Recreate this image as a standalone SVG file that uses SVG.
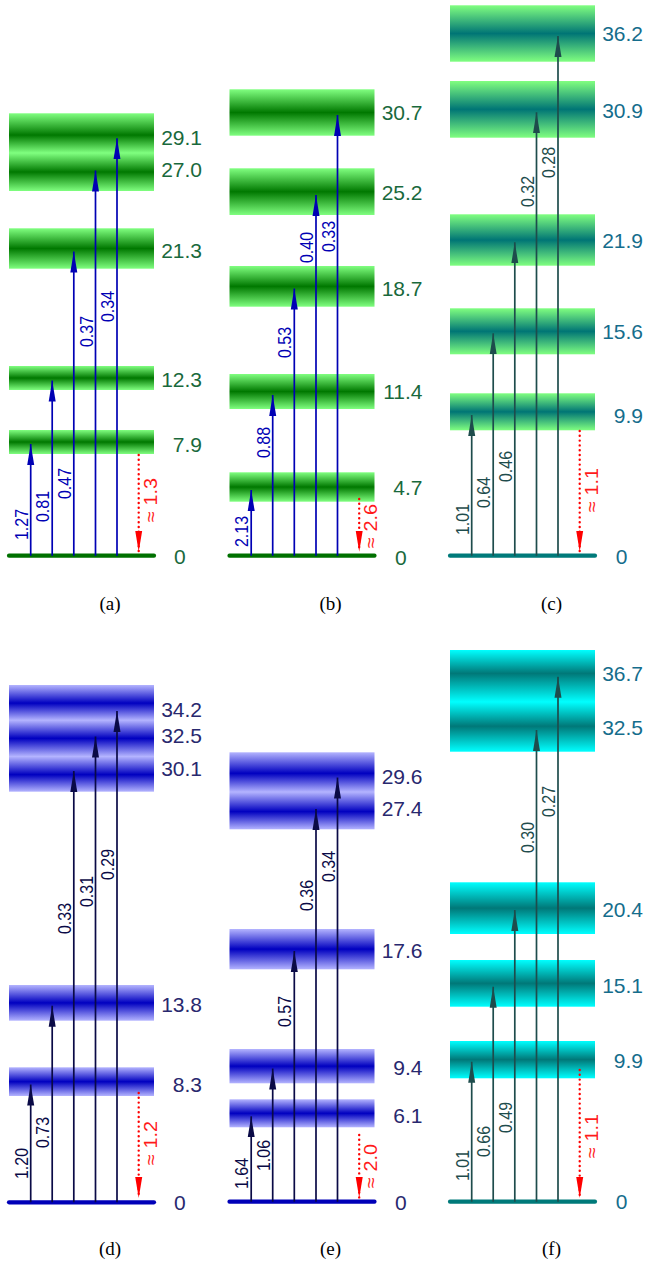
<svg xmlns="http://www.w3.org/2000/svg" width="645" height="1266" viewBox="0 0 645 1266">
<style>
text{font-family:"Liberation Sans","DejaVu Sans",sans-serif}
.lvG{font-size:21px;fill:#19693c}
.lvC{font-size:21px;fill:#156d8c}
.lvD{font-size:21px;fill:#28286e}
.e{text-anchor:end}
.al{font-size:18px}
.aB{fill:#0000b4}.aN{fill:#0a0a46}.aT{fill:#1e4c4c}
.rl{font-size:18px;fill:#ff1a1a}
.cap{font-family:"Liberation Serif",serif;font-size:19px;fill:#000;text-anchor:middle}
.gr{stroke-width:4.2;stroke-linecap:round}
.arB{stroke:#0000b4;stroke-width:1.7;marker-end:url(#mB)}
.arN{stroke:#0a0a46;stroke-width:1.7;marker-end:url(#mN)}
.arT{stroke:#1e4c4c;stroke-width:1.7;marker-end:url(#mT)}
.red{stroke:#ff0000;stroke-width:2.4;stroke-linecap:round;stroke-dasharray:0 4.8;marker-end:url(#mR)}
</style>
<defs>
<linearGradient id="gG" x1="0" y1="0" x2="0" y2="1"><stop offset="0" stop-color="#80ff80"/><stop offset="0.5" stop-color="#007800"/><stop offset="1" stop-color="#80ff80"/></linearGradient>
<linearGradient id="gG2" x1="0" y1="0" x2="0" y2="1"><stop offset="0" stop-color="#80ff80"/><stop offset="0.28" stop-color="#007800"/><stop offset="0.51" stop-color="#80ff80"/><stop offset="0.755" stop-color="#007800"/><stop offset="1" stop-color="#80ff80"/></linearGradient>
<linearGradient id="gC" x1="0" y1="0" x2="0" y2="1"><stop offset="0" stop-color="#80ff80"/><stop offset="0.5" stop-color="#007575"/><stop offset="1" stop-color="#80ff80"/></linearGradient>
<linearGradient id="gD" x1="0" y1="0" x2="0" y2="1"><stop offset="0" stop-color="#b4b4ff"/><stop offset="0.5" stop-color="#0000c0"/><stop offset="1" stop-color="#b4b4ff"/></linearGradient>
<linearGradient id="gD3" x1="0" y1="0" x2="0" y2="1"><stop offset="0" stop-color="#b4b4ff"/><stop offset="0.17" stop-color="#0000c0"/><stop offset="0.33" stop-color="#b4b4ff"/><stop offset="0.5" stop-color="#0000c0"/><stop offset="0.67" stop-color="#b4b4ff"/><stop offset="0.84" stop-color="#0000c0"/><stop offset="1" stop-color="#b4b4ff"/></linearGradient>
<linearGradient id="gE2" x1="0" y1="0" x2="0" y2="1"><stop offset="0" stop-color="#b4b4ff"/><stop offset="0.273" stop-color="#0000c0"/><stop offset="0.515" stop-color="#b4b4ff"/><stop offset="0.77" stop-color="#0000c0"/><stop offset="1" stop-color="#b4b4ff"/></linearGradient>
<linearGradient id="gF" x1="0" y1="0" x2="0" y2="1"><stop offset="0" stop-color="#00ffff"/><stop offset="0.5" stop-color="#007878"/><stop offset="1" stop-color="#00ffff"/></linearGradient>
<linearGradient id="gF2" x1="0" y1="0" x2="0" y2="1"><stop offset="0" stop-color="#00ffff"/><stop offset="0.23" stop-color="#007878"/><stop offset="0.51" stop-color="#00ffff"/><stop offset="0.75" stop-color="#007878"/><stop offset="1" stop-color="#00ffff"/></linearGradient>
<marker id="mB" markerWidth="21" markerHeight="8" refX="21" refY="4" orient="auto" markerUnits="userSpaceOnUse"><path d="M0,0.5 L21,4 L0,7.5 z" fill="#0000b4"/></marker>
<marker id="mN" markerWidth="21" markerHeight="8" refX="21" refY="4" orient="auto" markerUnits="userSpaceOnUse"><path d="M0,0.5 L21,4 L0,7.5 z" fill="#0a0a46"/></marker>
<marker id="mT" markerWidth="21" markerHeight="8" refX="21" refY="4" orient="auto" markerUnits="userSpaceOnUse"><path d="M0,0.5 L21,4 L0,7.5 z" fill="#1e4c4c"/></marker>
<marker id="mR" markerWidth="21" markerHeight="8" refX="21" refY="4" orient="auto" markerUnits="userSpaceOnUse"><path d="M0,0.5 L21,4 L0,7.5 z" fill="#ff0000"/></marker>
</defs>

<!-- Panel (a) -->
<g id="panel-a">
<g id="a-7.9"><rect x="9" y="430" width="145" height="24" fill="url(#gG)"/><text class="lvG e" x="202" y="451.6">7.9</text></g>
<g id="a-12.3"><rect x="9" y="366" width="145" height="24" fill="url(#gG)"/><text class="lvG e" x="202" y="386.6">12.3</text></g>
<g id="a-21.3"><rect x="9" y="228.3" width="145" height="40.4" fill="url(#gG)"/><text class="lvG e" x="202" y="257.6">21.3</text></g>
<g id="a-27-29"><rect x="9" y="113.3" width="145" height="77.7" fill="url(#gG2)"/><text class="lvG e" x="202" y="144.6">29.1</text><text class="lvG e" x="202" y="176.6">27.0</text></g>
<g id="a-0"><line class="gr" x1="9" y1="555.7" x2="154" y2="555.7" stroke="#007000"/><text class="lvG" x="174" y="564.3">0</text></g>
<g id="a-conn">
<line class="arB" x1="30.7" y1="555.7" x2="30.7" y2="444"/>
<line class="arB" x1="52.2" y1="555.7" x2="52.2" y2="380.5"/>
<line class="arB" x1="73.8" y1="555.7" x2="73.8" y2="251.5"/>
<line class="arB" x1="95.5" y1="555.7" x2="95.5" y2="170.5"/>
<line class="arB" x1="117" y1="555.7" x2="117" y2="138.3"/>
<line class="red" x1="138.7" y1="455" x2="138.7" y2="551.7"/>
<text class="al aB" transform="translate(27.7,540) rotate(-90)" textLength="31" lengthAdjust="spacingAndGlyphs">1.27</text>
<text class="al aB" transform="translate(49.2,522) rotate(-90)" textLength="31" lengthAdjust="spacingAndGlyphs">0.81</text>
<text class="al aB" transform="translate(70.8,499) rotate(-90)" textLength="31" lengthAdjust="spacingAndGlyphs">0.47</text>
<text class="al aB" transform="translate(92.5,347) rotate(-90)" textLength="31" lengthAdjust="spacingAndGlyphs">0.37</text>
<text class="al aB" transform="translate(114,322) rotate(-90)" textLength="31" lengthAdjust="spacingAndGlyphs">0.34</text>
<text class="rl" transform="translate(156.5,522) rotate(-90)" textLength="44" lengthAdjust="spacingAndGlyphs">≈ 1.3</text>
</g>
<text class="cap" x="110" y="610">(a)</text>
</g>

<!-- Panel (b) -->
<g id="panel-b" transform="translate(220.5,0)">
<g id="b-4.7"><rect x="9" y="472.3" width="145" height="29.4" fill="url(#gG)"/><text class="lvG e" x="202" y="494.9">4.7</text></g>
<g id="b-11.4"><rect x="9" y="374" width="145" height="35" fill="url(#gG)"/><text class="lvG e" x="202" y="399.3">11.4</text></g>
<g id="b-18.7"><rect x="9" y="266" width="145" height="40.7" fill="url(#gG)"/><text class="lvG e" x="202" y="295.6">18.7</text></g>
<g id="b-25.2"><rect x="9" y="168.3" width="145" height="46.7" fill="url(#gG)"/><text class="lvG e" x="202" y="199.8">25.2</text></g>
<g id="b-30.7"><rect x="9" y="89.3" width="145" height="46.4" fill="url(#gG)"/><text class="lvG e" x="202" y="119.9">30.7</text></g>
<g id="b-0"><line class="gr" x1="9" y1="555.7" x2="154" y2="555.7" stroke="#007000"/><text class="lvG" x="174.5" y="564.6">0</text></g>
<g id="b-conn">
<line class="arB" x1="30.7" y1="555.7" x2="30.7" y2="490"/>
<line class="arB" x1="52.2" y1="555.7" x2="52.2" y2="395"/>
<line class="arB" x1="73.8" y1="555.7" x2="73.8" y2="288.5"/>
<line class="arB" x1="95.5" y1="555.7" x2="95.5" y2="195"/>
<line class="arB" x1="117" y1="555.7" x2="117" y2="115"/>
<line class="red" x1="138.7" y1="499" x2="138.7" y2="551.7"/>
<text class="al aB" transform="translate(27.7,547) rotate(-90)" textLength="31" lengthAdjust="spacingAndGlyphs">2.13</text>
<text class="al aB" transform="translate(49.2,458) rotate(-90)" textLength="31" lengthAdjust="spacingAndGlyphs">0.88</text>
<text class="al aB" transform="translate(70.8,358) rotate(-90)" textLength="31" lengthAdjust="spacingAndGlyphs">0.53</text>
<text class="al aB" transform="translate(92.5,263) rotate(-90)" textLength="31" lengthAdjust="spacingAndGlyphs">0.40</text>
<text class="al aB" transform="translate(114,252) rotate(-90)" textLength="31" lengthAdjust="spacingAndGlyphs">0.33</text>
<text class="rl" transform="translate(156.5,548) rotate(-90)" textLength="44" lengthAdjust="spacingAndGlyphs">≈ 2.6</text>
</g>
<text class="cap" x="110" y="610">(b)</text>
</g>

<!-- Panel (c) -->
<g id="panel-c" transform="translate(441,0)">
<g id="c-9.9"><rect x="9" y="393.3" width="145" height="37" fill="url(#gC)"/><text class="lvC e" x="202" y="422.6">9.9</text></g>
<g id="c-15.6"><rect x="9" y="308.3" width="145" height="46" fill="url(#gC)"/><text class="lvC e" x="202" y="339.3">15.6</text></g>
<g id="c-21.9"><rect x="9" y="214.3" width="145" height="51.4" fill="url(#gC)"/><text class="lvC e" x="202" y="248.4">21.9</text></g>
<g id="c-30.9"><rect x="9" y="81" width="145" height="56.7" fill="url(#gC)"/><text class="lvC e" x="202" y="117.6">30.9</text></g>
<g id="c-36.2"><rect x="9" y="5.3" width="145" height="56.4" fill="url(#gC)"/><text class="lvC e" x="202" y="40.9">36.2</text></g>
<g id="c-0"><line class="gr" x1="9" y1="555.7" x2="154" y2="555.7" stroke="#007a7a"/><text class="lvC" x="174.7" y="564.3">0</text></g>
<g id="c-conn">
<line class="arT" x1="30.7" y1="555.7" x2="30.7" y2="415"/>
<line class="arT" x1="52.2" y1="555.7" x2="52.2" y2="333.3"/>
<line class="arT" x1="73.8" y1="555.7" x2="73.8" y2="242.3"/>
<line class="arT" x1="95.5" y1="555.7" x2="95.5" y2="112.3"/>
<line class="arT" x1="117" y1="555.7" x2="117" y2="36"/>
<line class="red" x1="138.7" y1="431" x2="138.7" y2="551.7"/>
<text class="al aT" transform="translate(27.7,535) rotate(-90)" textLength="31" lengthAdjust="spacingAndGlyphs">1.01</text>
<text class="al aT" transform="translate(49.2,508) rotate(-90)" textLength="31" lengthAdjust="spacingAndGlyphs">0.64</text>
<text class="al aT" transform="translate(70.8,482) rotate(-90)" textLength="31" lengthAdjust="spacingAndGlyphs">0.46</text>
<text class="al aT" transform="translate(92.5,207) rotate(-90)" textLength="31" lengthAdjust="spacingAndGlyphs">0.32</text>
<text class="al aT" transform="translate(114,178) rotate(-90)" textLength="31" lengthAdjust="spacingAndGlyphs">0.28</text>
<text class="rl" transform="translate(156.5,512) rotate(-90)" textLength="44" lengthAdjust="spacingAndGlyphs">≈ 1.1</text>
</g>
<text class="cap" x="110.5" y="610">(c)</text>
</g>

<!-- Panel (d) -->
<g id="panel-d">
<g id="d-8.3"><rect x="9" y="1067.3" width="145" height="28.7" fill="url(#gD)"/><text class="lvD e" x="202" y="1091.6">8.3</text></g>
<g id="d-13.8"><rect x="9" y="985" width="145" height="35.7" fill="url(#gD)"/><text class="lvD e" x="202" y="1011.6">13.8</text></g>
<g id="d-30-34"><rect x="9" y="685" width="145" height="106.7" fill="url(#gD3)"/><text class="lvD e" x="202" y="716.9">34.2</text><text class="lvD e" x="202" y="742.6">32.5</text><text class="lvD e" x="202" y="775.9">30.1</text></g>
<g id="d-0"><line class="gr" x1="9" y1="1202.3" x2="154" y2="1202.3" stroke="#0000b8"/><text class="lvD" x="174" y="1210.3">0</text></g>
<g id="d-conn">
<line class="arN" x1="30.7" y1="1202.3" x2="30.7" y2="1084.5"/>
<line class="arN" x1="52.2" y1="1202.3" x2="52.2" y2="1005.7"/>
<line class="arN" x1="73.8" y1="1202.3" x2="73.8" y2="771"/>
<line class="arN" x1="95.5" y1="1202.3" x2="95.5" y2="736.5"/>
<line class="arN" x1="117" y1="1202.3" x2="117" y2="711"/>
<line class="red" x1="138.7" y1="1093" x2="138.7" y2="1198"/>
<text class="al aN" transform="translate(27.7,1179) rotate(-90)" textLength="31" lengthAdjust="spacingAndGlyphs">1.20</text>
<text class="al aN" transform="translate(49.2,1148) rotate(-90)" textLength="31" lengthAdjust="spacingAndGlyphs">0.73</text>
<text class="al aN" transform="translate(70.8,934) rotate(-90)" textLength="31" lengthAdjust="spacingAndGlyphs">0.33</text>
<text class="al aN" transform="translate(92.5,907) rotate(-90)" textLength="31" lengthAdjust="spacingAndGlyphs">0.31</text>
<text class="al aN" transform="translate(114,880) rotate(-90)" textLength="31" lengthAdjust="spacingAndGlyphs">0.29</text>
<text class="rl" transform="translate(156.5,1165) rotate(-90)" textLength="44" lengthAdjust="spacingAndGlyphs">≈ 1.2</text>
</g>
<text class="cap" x="110" y="1255">(d)</text>
</g>

<!-- Panel (e) -->
<g id="panel-e" transform="translate(220.5,0)">
<g id="e-6.1"><rect x="9" y="1099.3" width="145" height="28" fill="url(#gD)"/><text class="lvD e" x="202" y="1123.3">6.1</text></g>
<g id="e-9.4"><rect x="9" y="1049" width="145" height="34.3" fill="url(#gD)"/><text class="lvD e" x="202" y="1075.3">9.4</text></g>
<g id="e-17.6"><rect x="9" y="929" width="145" height="40.3" fill="url(#gD)"/><text class="lvD e" x="202" y="957.6">17.6</text></g>
<g id="e-27-29"><rect x="9" y="752.3" width="145" height="77" fill="url(#gE2)"/><text class="lvD e" x="202" y="784.3">29.6</text><text class="lvD e" x="202" y="815.9">27.4</text></g>
<g id="e-0"><line class="gr" x1="9" y1="1201.7" x2="154" y2="1201.7" stroke="#0000b8"/><text class="lvD" x="174.5" y="1209.6">0</text></g>
<g id="e-conn">
<line class="arN" x1="30.7" y1="1201.7" x2="30.7" y2="1116.3"/>
<line class="arN" x1="52.2" y1="1201.7" x2="52.2" y2="1068.5"/>
<line class="arN" x1="73.8" y1="1201.7" x2="73.8" y2="951"/>
<line class="arN" x1="95.5" y1="1201.7" x2="95.5" y2="809"/>
<line class="arN" x1="117" y1="1201.7" x2="117" y2="777.5"/>
<line class="red" x1="138.7" y1="1135" x2="138.7" y2="1198"/>
<text class="al aN" transform="translate(27.7,1189) rotate(-90)" textLength="31" lengthAdjust="spacingAndGlyphs">1.64</text>
<text class="al aN" transform="translate(49.2,1171) rotate(-90)" textLength="31" lengthAdjust="spacingAndGlyphs">1.06</text>
<text class="al aN" transform="translate(70.8,1027) rotate(-90)" textLength="31" lengthAdjust="spacingAndGlyphs">0.57</text>
<text class="al aN" transform="translate(92.5,911) rotate(-90)" textLength="31" lengthAdjust="spacingAndGlyphs">0.36</text>
<text class="al aN" transform="translate(114,882) rotate(-90)" textLength="31" lengthAdjust="spacingAndGlyphs">0.34</text>
<text class="rl" transform="translate(156.5,1188) rotate(-90)" textLength="44" lengthAdjust="spacingAndGlyphs">≈ 2.0</text>
</g>
<text class="cap" x="110" y="1255">(e)</text>
</g>

<!-- Panel (f) -->
<g id="panel-f" transform="translate(441,0)">
<g id="f-9.9"><rect x="9" y="1041" width="145" height="37.3" fill="url(#gF)"/><text class="lvC e" x="202" y="1067.6">9.9</text></g>
<g id="f-15.1"><rect x="9" y="960" width="145" height="46.7" fill="url(#gF)"/><text class="lvC e" x="202" y="992.6">15.1</text></g>
<g id="f-20.4"><rect x="9" y="882.3" width="145" height="51.7" fill="url(#gF)"/><text class="lvC e" x="202" y="916.9">20.4</text></g>
<g id="f-32-36"><rect x="9" y="650" width="145" height="101.7" fill="url(#gF2)"/><text class="lvC e" x="202" y="680.9">36.7</text><text class="lvC e" x="202" y="734.9">32.5</text></g>
<g id="f-0"><line class="gr" x1="9" y1="1201.7" x2="154" y2="1201.7" stroke="#007a7a"/><text class="lvC" x="174.7" y="1209.3">0</text></g>
<g id="f-conn">
<line class="arT" x1="30.7" y1="1201.7" x2="30.7" y2="1061.7"/>
<line class="arT" x1="52.2" y1="1201.7" x2="52.2" y2="986.7"/>
<line class="arT" x1="73.8" y1="1201.7" x2="73.8" y2="910"/>
<line class="arT" x1="95.5" y1="1201.7" x2="95.5" y2="730"/>
<line class="arT" x1="117" y1="1201.7" x2="117" y2="676.7"/>
<line class="red" x1="138.7" y1="1070" x2="138.7" y2="1198"/>
<text class="al aT" transform="translate(27.7,1181) rotate(-90)" textLength="31" lengthAdjust="spacingAndGlyphs">1.01</text>
<text class="al aT" transform="translate(49.2,1157) rotate(-90)" textLength="31" lengthAdjust="spacingAndGlyphs">0.66</text>
<text class="al aT" transform="translate(70.8,1133) rotate(-90)" textLength="31" lengthAdjust="spacingAndGlyphs">0.49</text>
<text class="al aT" transform="translate(92.5,853) rotate(-90)" textLength="31" lengthAdjust="spacingAndGlyphs">0.30</text>
<text class="al aT" transform="translate(114,817) rotate(-90)" textLength="31" lengthAdjust="spacingAndGlyphs">0.27</text>
<text class="rl" transform="translate(156.5,1158) rotate(-90)" textLength="44" lengthAdjust="spacingAndGlyphs">≈ 1.1</text>
</g>
<text class="cap" x="110.5" y="1255">(f)</text>
</g>
</svg>
